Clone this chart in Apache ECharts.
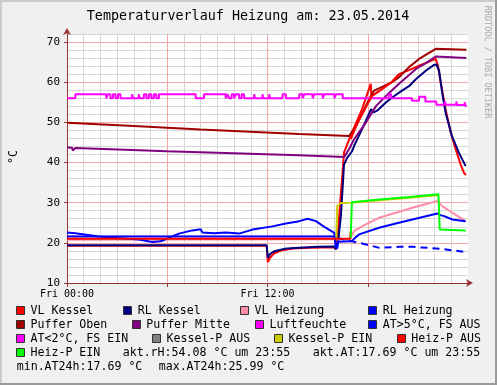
<!DOCTYPE html>
<html><head><meta charset="utf-8">
<script src="https://cdn.jsdelivr.net/npm/echarts@6/dist/echarts.min.js"></script>
<style>html,body{margin:0;padding:0;background:#F0F0F0}#c{width:497px;height:385px}</style>
</head><body><div id="c"></div><script>
// ---------- data ----------
const chartTitle = 'Temperaturverlauf Heizung am: 23.05.2014';
const yUnit = '°C';
const watermark = 'RRDTOOL / TOBI OETIKER';
const xLabelValues = [0, 12];
const xLabelTexts = ['Fri 00:00', 'Fri 12:00'];
const xMajorTicks = [0, 6, 12, 18];
const yLabelValues = [10, 20, 30, 40, 50, 60, 70];

const vlKessel = [[0,19.3],[11.95,19.3],[12.02,15.2],[12.15,16.3],[12.4,17.4],[12.8,18.1],[13.5,18.6],[14.5,18.8],[16.0,18.9],[16.1,18.4],[16.2,21.5],[16.35,30],[16.5,38],[16.58,42.5],[17.06,47.5],[17.66,53.3],[18.18,59.6],[18.22,56.5],[18.86,58.3],[19.46,60.1],[19.87,62.0],[20.47,63.0],[21.07,64.1],[21.6,65.0],[22.07,65.8],[22.2,64.1],[22.37,59.9],[22.66,53.2],[22.97,47.4],[23.27,43.2],[23.56,39.5],[23.76,37.4],[23.88,36.9]];
const rlKessel = [[0,19.4],[11.95,19.4],[12.02,16.3],[12.15,17.2],[12.4,17.9],[13.0,18.5],[13.9,18.8],[15.0,19.0],[16.0,19.1],[16.09,18.4],[16.17,18.1],[16.24,20.8],[16.39,26.6],[16.49,33.3],[16.58,39.5],[16.76,41.1],[17.06,42.8],[17.18,44.1],[17.66,48.3],[18.2,53.3],[18.35,52.5],[18.56,52.9],[19.1,55.0],[19.46,56.2],[20.05,57.9],[20.47,59.0],[20.89,60.8],[21.49,62.9],[21.97,64.3],[22.1,64.4],[22.27,62.9],[22.45,57.5],[22.66,52.4],[23.04,46.6],[23.46,42.4],[23.86,39.1]];
const vlHeizung = [[0,20.8],[16.9,20.9],[16.98,21.3],[17.18,22.9],[17.68,24.15],[18.68,26.25],[19.68,27.5],[20.67,28.75],[22.17,30.4],[22.46,29.15],[23.06,27.5],[23.86,25.4]];
const rlHeizung = [[0,21.6],[16.0,21.6],[16.09,19.3],[16.17,18.6],[16.24,20.3],[16.9,20.4],[17.06,20.4],[17.18,21.0],[17.48,22.1],[18.68,23.75],[19.68,24.8],[20.67,25.8],[22.17,27.3],[22.35,26.9],[22.57,26.65],[23.06,25.8],[23.86,25.4]];
const pufferOben = [[0,49.9],[4,49.1],[8,48.2],[13.89,47.1],[16.88,46.6],[17.3,49.0],[18.08,55.8],[18.38,57.9],[19.46,60.0],[19.87,61.25],[20.47,63.75],[21.07,65.8],[22.07,68.3],[23.9,68.1]];
const pufferMitte = [[0,43.75],[0.3,43.7],[0.35,43.0],[0.45,43.0],[0.5,43.6],[6,42.8],[13.89,41.8],[16.6,41.4],[16.88,43.3],[17.18,45.8],[17.9,50.0],[18.5,54.1],[19.1,56.6],[19.87,59.6],[20.89,63.3],[21.5,64.8],[22.07,66.4],[23.9,66.0]];
const luftfeuchte = [[0,56],[0.5,57],[2.35,56],[2.45,57],[2.6,56],[2.75,57],[2.9,56],[3.05,57],[3.2,56],[3.9,57],[3.95,56],[4.3,57],[4.35,56],[4.6,57],[4.75,56],[4.9,57],[5.05,56],[5.2,57],[5.35,56],[5.5,57],[7.7,56],[8.2,57],[9.5,56],[9.6,57],[9.7,56],[9.85,57],[10.0,56],[10.1,57],[10.3,56],[10.45,57],[10.6,56],[11.2,57],[11.25,56],[11.7,57],[11.75,56],[12.1,57],[12.15,56],[12.9,57],[13.1,56],[13.9,57],[14.1,56],[14.2,57],[14.7,56],[14.8,57],[15.3,56],[15.4,57],[16.0,56],[16.1,57],[16.5,56],[19.25,57],[19.4,56],[20.65,55.4],[21.07,56.4],[21.45,55.2],[22.1,54.4],[22.6,55.2],[22.7,54.4],[23.3,55.2],[23.35,54.3],[23.8,55],[23.85,54.08],[23.92,54.08]];
const atSolid = [[0,22.6],[0.5,22.4],[1.9,21.6],[3.0,21.2],[4.3,20.8],[5.1,20.2],[5.6,20.4],[5.9,20.9],[6.7,22.3],[7.5,23.1],[8.0,23.4],[8.1,22.6],[8.8,22.4],[9.5,22.6],[10.3,22.3],[11.1,23.3],[12.3,24.1],[13.1,24.8],[13.9,25.4],[14.4,25.99],[14.9,25.4],[15.5,23.7],[16.0,22.5],[16.09,19.0],[16.2,19.3]];
const atDashed = [[16.2,21.2],[16.3,21.2],[17.06,20.4],[17.9,19.6],[18.7,18.75],[19.9,19.0],[20.7,19.0],[22.1,18.6],[22.8,18.3],[23.86,17.69]];
const kesselPEin = [[16.12,21.3],[16.17,29.1],[16.39,29.9],[16.98,30.0],[18.68,30.6],[20.67,31.3],[22.23,31.9]];
const heizPAus = [[0,21.0],[16.95,21.0],[16.98,22.9],[17.0,null],[16.98,45.8],[17.4,50.0],[18.26,56.6],[18.86,58.3],[19.46,60.1],[19.87,62.0]];
const heizPEin = [[16.98,21.3],[17.05,30.1],[18.68,30.8],[20.67,31.5],[22.23,32.1],[22.31,23.3],[23.86,23.1]];

const legendNames = ['VL Kessel','RL Kessel','VL Heizung','RL Heizung','Puffer Oben','Puffer Mitte','Luftfeuchte','AT>5°C, FS AUS','AT<2°C, FS EIN','Kessel-P AUS','Kessel-P EIN','Heiz-P AUS','Heiz-P EIN'];
const legendColors = ['#FF0000','#000080','#FF8CA8','#0000FF','#A00000','#800080','#FF00FF','#0000FF','#FF00FF','#808080','#CCCC00','#FF0000','#00FF00'];
const statTexts = ['akt.rH:54.08 °C um 23:55','akt.AT:17.69 °C um 23:55','min.AT24h:17.69 °C','max.AT24h:25.99 °C'];

// ---------- layout ----------
const FONT = '"DejaVu Sans Mono", monospace';
const legendBoxPos = [[16,311],[123.3,311],[240,311],[368.3,311],[16,325],[131.7,325],[255,325],[368.3,325],[16,339],[152,339],[274,339],[396.7,339],[16,353]];
const statPos = [[122.7,353],[312.7,353],[16.7,367],[158.7,367]];
const MAJOR = '#F2A8A8', MINOR = '#D6D6D6', AXIS = '#993333';

const graphics = [];
graphics.push({type:'rect', shape:{x:0,y:0,width:497,height:2}, style:{fill:'#CBCBCB'}, silent:true});
graphics.push({type:'rect', shape:{x:0,y:0,width:2,height:385}, style:{fill:'#CBCBCB'}, silent:true});
graphics.push({type:'rect', shape:{x:495,y:0,width:2,height:385}, style:{fill:'#999999'}, silent:true});
graphics.push({type:'rect', shape:{x:0,y:383,width:497,height:2}, style:{fill:'#999999'}, silent:true});
graphics.push({type:'text', x:248, y:16.5, style:{text:chartTitle, font:'13.4px '+FONT, fill:'#000', align:'center', verticalAlign:'middle'}});
graphics.push({type:'text', x:14, y:157, rotation:Math.PI/2, style:{text:yUnit, font:'11.6px '+FONT, fill:'#000', align:'center', verticalAlign:'middle'}});
graphics.push({type:'text', x:487, y:62, rotation:-Math.PI/2, style:{text:watermark, font:'8.5px '+FONT, fill:'#ABABAB', align:'center', verticalAlign:'middle'}});
legendNames.forEach((n,i)=>{
  const [bx,by] = legendBoxPos[i];
  graphics.push({type:'rect', shape:{x:Math.round(bx)+0.5,y:by-4.5,width:8,height:8}, style:{fill:legendColors[i], stroke:'#303030', lineWidth:1}});
  graphics.push({type:'text', x:bx+14.5, y:by, style:{text:n, font:'11.6px '+FONT, fill:'#000', align:'left', verticalAlign:'middle'}});
});
statTexts.forEach((t,i)=>{
  graphics.push({type:'text', x:statPos[i][0], y:statPos[i][1], style:{text:t, font:'11.6px '+FONT, fill:'#000', align:'left', verticalAlign:'middle'}});
});

function line(name, data, color, extra) {
  return Object.assign({name, type:'line', data, showSymbol:false, symbol:'none', connectNulls:false,
    lineStyle:{color, width:2}, itemStyle:{color}, animation:false, silent:true}, extra||{});
}

const chart = echarts.init(document.getElementById('c'), null, {renderer:'canvas', width:497, height:385});
chart.setOption({
  animation:false,
  backgroundColor:'#F0F0F0',
  grid:{left:67, right:29, top:34, bottom:102, show:true, backgroundColor:'#FFFFFF', borderWidth:0, outerBoundsMode:'none'},
  xAxis:[
    {type:'value', min:0, max:24, interval:1,
     axisLine:{show:true, lineStyle:{color:AXIS, width:1}, symbol:['none','arrow'], symbolSize:[6,7], symbolOffset:[0,5]},
     axisTick:{show:false},
     axisLabel:{customValues:xLabelValues, formatter:v=>xLabelTexts[xLabelValues.indexOf(v)]||'', fontFamily:'DejaVu Sans Mono', fontSize:10, color:'#000', margin:6},
     splitLine:{show:true, showMaxLine:false, lineStyle:{color:[MAJOR,MINOR,MINOR,MINOR,MINOR,MINOR], width:1}}},
    {type:'value', min:0, max:24, position:'bottom',
     axisLine:{show:false}, axisLabel:{show:false}, splitLine:{show:false},
     axisTick:{show:true, customValues:xMajorTicks, length:4, lineStyle:{color:AXIS}}}
  ],
  yAxis:[
    {type:'value', min:10, max:72, interval:2,
     axisLine:{show:true, lineStyle:{color:AXIS, width:1}, symbol:['none','arrow'], symbolSize:[6,7], symbolOffset:[0,6]},
     axisTick:{show:false},
     axisLabel:{customValues:yLabelValues, fontFamily:'DejaVu Sans Mono', fontSize:11, color:'#000', margin:7},
     splitLine:{show:true, lineStyle:{color:[MAJOR,MINOR,MINOR,MINOR,MINOR], width:1}}},
    {type:'value', min:10, max:72, position:'left',
     axisLine:{show:false}, axisLabel:{show:false}, splitLine:{show:false},
     axisTick:{show:true, customValues:yLabelValues, length:3, lineStyle:{color:AXIS}}}
  ],
  series:[
    line('VL Kessel', vlKessel, legendColors[0]),
    line('RL Kessel', rlKessel, legendColors[1]),
    line('VL Heizung', vlHeizung, legendColors[2]),
    line('RL Heizung', rlHeizung, legendColors[3]),
    line('Puffer Oben', pufferOben, legendColors[4]),
    line('Puffer Mitte', pufferMitte, legendColors[5]),
    line('Luftfeuchte', luftfeuchte, legendColors[6], {step:'end'}),
    line('AT>5°C, FS AUS', atSolid, legendColors[7]),
    line('AT>5°C, FS AUS', atDashed, legendColors[7], {lineStyle:{color:legendColors[7], width:2, type:[7,5]}}),
    line('Kessel-P EIN', kesselPEin, legendColors[10]),
    line('Heiz-P AUS', heizPAus, legendColors[11]),
    line('Heiz-P EIN', heizPEin, legendColors[12])
  ],
  graphic:graphics
});
</script></body></html>
